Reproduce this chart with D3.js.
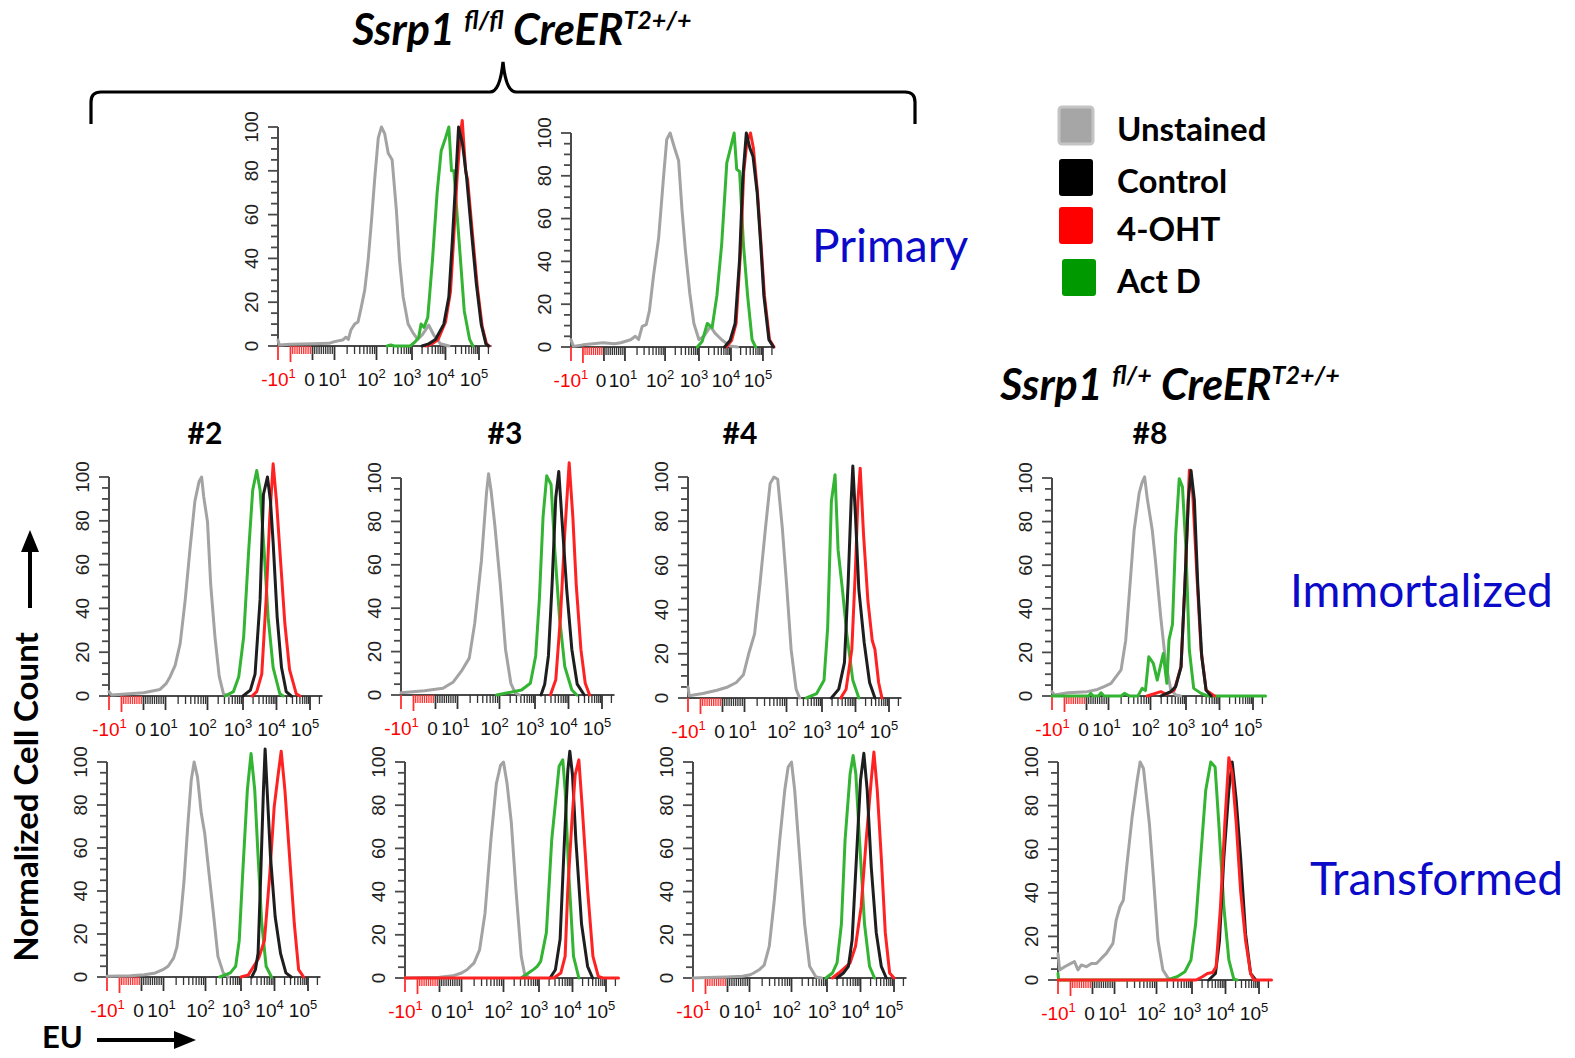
<!DOCTYPE html>
<html>
<head>
<meta charset="utf-8">
<script src="https://cdn.jsdelivr.net/npm/d3@7"></script>
<style>
  body { margin: 0; background: #fff; }
  svg { display: block; }
</style>
</head>
<body>
<svg id="fig" width="1575" height="1058"></svg>
<script>
// Histogram points are [u, % of max]; u is the display decade:
// u = EU/10 inside the linear zone (-10..10), sign*log10|EU| outside it.

const legendLabels = ["Unstained", "Control", "4-OHT", "Act D"];
const seriesKeys = ["unstained", "control", "oht", "actd"];
const rowLabels = ["Primary", "Immortalized", "Transformed"];
const cloneLabels = ["#2", "#3", "#4", "#8"];
const yTicks = [0, 20, 40, 60, 80, 100];

const primaryA = {
    unstained: [[-2,2.7],[-1.9,0.5],[-1,0.8],[0,1],[0.75,1.2],[1,2],[1.19,2.7],[1.27,4],[1.33,3],[1.39,7.3],[1.48,10],[1.56,11],[1.64,18],[1.72,25.5],[1.8,39],[1.88,57],[1.96,77],[2.05,95],[2.14,100],[2.23,97],[2.33,88],[2.44,85],[2.56,62],[2.65,39],[2.75,22.5],[2.89,10],[3.03,6],[3.17,3],[3.3,5],[3.5,9.5],[3.65,5],[3.85,1],[4.1,0]],
    actd: [[2.3,0],[2.4,0.5],[2.5,0],[2.95,0],[3.1,2],[3.2,4],[3.27,10],[3.36,8.5],[3.47,13],[3.61,39],[3.75,70],[3.87,89],[4,95],[4.1,100],[4.18,80],[4.25,80],[4.41,47],[4.56,16],[4.72,3],[4.82,0]],
    control: [[3.3,0],[3.5,1],[3.7,3],[3.95,10],[4.1,22.5],[4.2,47],[4.31,77],[4.39,100],[4.51,92],[4.63,77],[4.77,53],[4.92,28.5],[5.07,10],[5.22,1],[5.3,0]],
    oht: [[3.4,0],[3.6,1],[3.78,3],[4,11],[4.15,25],[4.24,48],[4.35,78],[4.44,96],[4.5,103],[4.6,80],[4.66,76],[4.8,52],[4.95,27],[5.1,9],[5.24,1],[5.32,0]]
};
const primaryB = {
    unstained: [[-2,3.4],[-1.8,0.3],[-1,1],[-0.05,2],[0.5,1.5],[0.8,2],[1.14,3.4],[1.26,5],[1.34,3.5],[1.43,9.6],[1.53,10.4],[1.61,17],[1.71,33],[1.84,51],[1.96,79],[2.05,97],[2.15,100],[2.28,93],[2.4,87],[2.5,64],[2.6,45],[2.73,25],[2.85,11],[3,3.4],[3.15,5],[3.36,9.6],[3.5,6.5],[3.71,3.4],[3.97,0.5],[4.2,0]],
    actd: [[2.95,0],[3.1,2.6],[3.26,11],[3.41,9],[3.56,24],[3.71,48],[3.87,86],[3.97,92],[4.1,100],[4.18,83],[4.27,82],[4.39,48],[4.52,24],[4.66,3.4],[4.77,0]],
    control: [[3.8,0],[3.97,3],[4.13,11],[4.27,41],[4.37,79],[4.48,100],[4.59,93],[4.69,89],[4.82,72],[4.93,48],[5.03,24],[5.2,3.4],[5.35,0]],
    oht: [[3.85,0],[4.02,3],[4.16,11],[4.3,45],[4.4,82],[4.5,96],[4.61,100],[4.7,93],[4.83,72],[4.94,48],[5.05,24],[5.22,3.4],[5.37,0]]
};
const immort2 = {
    unstained: [[-2,2],[-1.8,0.5],[0,1.5],[0.75,3],[1.02,5.8],[1.11,8.8],[1.23,14],[1.35,24],[1.47,44],[1.58,66.5],[1.7,89],[1.8,98],[1.86,100],[1.91,91],[2,79.5],[2.09,51],[2.21,27],[2.33,9],[2.45,1],[2.6,0]],
    actd: [[2.5,0],[2.73,2],[2.88,8.8],[3.02,27],[3.17,66.5],[3.29,94],[3.41,103],[3.51,94],[3.63,66.5],[3.75,36],[3.9,13],[4.1,1],[4.2,0]],
    control: [[3,0],[3.22,2.7],[3.36,10],[3.51,44],[3.61,92],[3.73,100],[3.82,89],[3.9,70],[4.02,36],[4.15,13],[4.29,2],[4.44,0]],
    oht: [[3.27,0],[3.41,2],[3.56,10],[3.69,44],[3.8,82],[3.9,106],[4,89],[4.1,66.5],[4.25,33],[4.39,12],[4.59,1],[4.7,0]]
};
const immort3 = {
    unstained: [[-2,1],[-0.5,2],[0.34,3.1],[0.81,6],[1.11,11.5],[1.28,17],[1.41,33],[1.57,62],[1.69,93],[1.74,102],[1.8,94],[1.89,78],[2.02,51.5],[2.17,21],[2.32,5.4],[2.44,1],[2.56,0]],
    actd: [[1.93,0],[2.62,2.3],[2.87,5.4],[3.02,18],[3.13,44],[3.24,82],[3.35,101],[3.48,97],[3.59,67],[3.73,36],[3.89,13],[4.1,2.3],[4.25,0]],
    control: [[3.18,0],[3.29,5],[3.4,18],[3.51,51],[3.62,91],[3.71,103],[3.8,82],[3.95,48],[4.1,21],[4.26,5],[4.47,0]],
    oht: [[3.46,0],[3.62,7],[3.76,36],[3.89,75],[4.02,107],[4.13,82],[4.23,51],[4.37,21],[4.5,5.4],[4.63,0]]
};
const immort4 = {
    unstained: [[-2,5],[-1.9,1],[-0.9,2],[-0.25,3.5],[0.24,5],[0.63,7],[0.95,10.5],[1.1,20],[1.24,29],[1.37,52],[1.5,77],[1.61,97],[1.7,100],[1.79,99],[1.9,77],[2,52],[2.13,22],[2.27,4],[2.37,0]],
    actd: [[2.56,0],[2.85,2],[3.06,8],[3.17,32],[3.28,89],[3.39,101],[3.48,67],[3.61,49],[3.74,29],[3.92,8],[4.1,0]],
    control: [[3.28,0],[3.5,4],[3.67,16],[3.78,52],[3.87,89],[3.92,105],[4,82],[4.1,49],[4.26,25],[4.42,7],[4.58,0]],
    oht: [[3.56,0],[3.72,4],[3.89,22],[4,59],[4.07,89],[4.14,104],[4.24,74],[4.37,44],[4.5,26],[4.58,22],[4.69,7],[4.79,0]]
};
const immort8 = {
    unstained: [[-2,2],[-1.8,0.5],[-0.85,1.5],[0.03,2],[0.5,3],[0.8,4.3],[1.06,5.8],[1.18,8.9],[1.3,12],[1.41,25.6],[1.49,45.5],[1.61,76],[1.73,93],[1.8,98],[1.86,100.5],[1.92,91],[2.05,76],[2.14,62],[2.29,36],[2.43,15],[2.57,3],[2.71,0.5],[2.85,0]],
    actd: [[-2,0],[0.1,0],[0.19,1.2],[0.3,0],[0.55,0],[0.66,1.5],[0.8,0],[1.3,0],[1.38,1.2],[1.5,0],[1.7,0],[1.8,3.5],[1.88,2.5],[1.96,18],[2.08,15],[2.19,7.3],[2.36,19.5],[2.46,5.8],[2.52,25.6],[2.62,33],[2.71,74],[2.81,99.7],[2.9,96],[3,67],[3.1,21],[3.23,3.5],[3.45,1.2],[3.65,0],[5.4,0]],
    control: [[2.29,0],[2.57,2],[2.71,4.3],[2.86,13.4],[2.97,51.6],[3.07,89.8],[3.15,103.5],[3.25,89.8],[3.35,51.6],[3.47,18],[3.6,2.7],[3.75,0]],
    oht: [[1.92,0],[2.29,2],[2.45,0.8],[2.67,2.7],[2.86,13.4],[2.98,55],[3.1,103.5],[3.2,93],[3.33,54],[3.45,21],[3.6,2.7],[3.85,0]]
};
const transf2 = {
    unstained: [[-2,0.3],[-0.5,0.6],[0.13,1],[0.63,1.9],[0.97,3.4],[1.11,5],[1.24,8.8],[1.32,14],[1.41,28],[1.49,45],[1.58,71],[1.66,91.5],[1.73,100],[1.81,93],[1.9,76],[1.98,67],[2.1,48],[2.22,30],[2.35,9.6],[2.5,1.9],[2.65,0]],
    actd: [[2.4,0],[2.7,1.9],[2.85,5],[2.95,17],[3.05,48],[3.19,87],[3.3,104],[3.41,87],[3.51,56],[3.62,25],[3.75,5],[3.91,0]],
    control: [[3.32,0],[3.43,3.4],[3.51,11],[3.59,48],[3.67,87],[3.72,106],[3.78,87],[3.88,56],[4.02,28],[4.18,11],[4.34,1.9],[4.5,0]],
    oht: [[3,0],[3.22,1],[3.38,5],[3.53,8.8],[3.7,17],[3.86,48],[3.99,79],[4.1,93],[4.2,105],[4.31,87],[4.45,56],[4.59,25],[4.72,3.4],[4.87,0]]
};
const transf3 = {
    unstained: [[-2,0],[0,0.3],[0.6,1],[1,2.3],[1.13,3.8],[1.3,7],[1.43,13],[1.56,30],[1.7,64],[1.83,90],[1.93,98.5],[2,100],[2.1,90],[2.22,72],[2.35,41],[2.5,10],[2.6,1.5],[2.75,0]],
    actd: [[2.5,0],[2.7,2.3],[2.85,4],[2.95,5.4],[3.05,7.7],[3.22,21],[3.38,64],[3.6,98],[3.71,101],[3.78,87],[3.89,48],[4.03,10],[4.19,0]],
    control: [[3.33,0],[3.49,3.8],[3.63,18],[3.76,64],[3.86,96],[3.92,105],[4,94],[4.1,64],[4.27,25],[4.45,5.4],[4.6,0]],
    oht: [[-2,0],[3.44,0],[3.65,2.3],[3.78,10],[3.86,41],[3.98,72],[4.08,94],[4.19,101],[4.29,79],[4.45,41],[4.61,10],[4.77,0.8],[4.9,0],[5.4,0]]
};
const transf4 = {
    unstained: [[-2,0],[-0.95,0.2],[-0.05,0.5],[0.68,0.8],[1.02,1.5],[1.1,2.3],[1.23,3.8],[1.35,6],[1.47,14.6],[1.59,36],[1.72,64],[1.84,87],[1.92,97.7],[2,100],[2.09,87],[2.23,56],[2.37,25],[2.51,5.4],[2.69,0.5],[2.85,0]],
    actd: [[2.97,0],[3.16,2.3],[3.3,7],[3.43,25],[3.54,64],[3.69,94.6],[3.78,103],[3.86,94.6],[3.97,64],[4.12,25],[4.27,5.4],[4.42,0]],
    control: [[3.3,0],[3.49,2.3],[3.64,5.4],[3.75,17.7],[3.88,56],[4,91.5],[4.1,104],[4.2,87],[4.32,51.5],[4.47,21],[4.62,5.4],[4.77,0]],
    oht: [[3.16,0],[3.35,2.3],[3.52,4.6],[3.69,7],[3.85,14.6],[4.02,33],[4.17,64],[4.32,91.5],[4.4,104.6],[4.5,87],[4.62,56],[4.74,21],[4.87,2.3],[5,0]]
};
const transf8 = {
    unstained: [[-2,12],[-1.87,4.6],[-1.47,6.1],[-1.08,7.3],[-0.82,8.4],[-0.66,4.6],[-0.51,6.9],[-0.28,6.1],[-0.05,7.6],[0.18,7.6],[0.4,9.9],[0.63,12.2],[0.93,16.8],[1.04,27.5],[1.13,33.6],[1.21,36.6],[1.29,51.9],[1.42,74.8],[1.54,91.6],[1.61,100],[1.69,97],[1.83,71.8],[1.92,48.9],[2.04,18.3],[2.18,4.6],[2.35,0.3],[2.5,0]],
    actd: [[-2,3],[-1.95,0],[2.3,0],[2.58,1.5],[2.8,3.8],[2.97,9.2],[3.11,26],[3.26,56.5],[3.41,87],[3.56,100],[3.69,97.7],[3.8,71.8],[3.95,33.6],[4.1,9.2],[4.25,0.3],[4.35,0]],
    control: [[3.5,0],[3.7,3],[3.82,18],[3.95,56],[4.1,87],[4.2,100],[4.32,82.5],[4.45,56.5],[4.6,21],[4.75,3],[4.9,0]],
    oht: [[-2,0],[3.12,0],[3.31,1.5],[3.46,3],[3.61,3.4],[3.72,6],[3.85,33.6],[3.98,72],[4.1,102],[4.2,94.6],[4.32,72],[4.45,41],[4.6,18],[4.75,3],[4.85,0],[5.4,0]]
};

// axis geometry: display decade -> pixel offset from the y axis
const uStops = [-2, -1, 0, 1, 2, 3, 4, 5, 5.4];
const pxStops = [0, 12.5, 34.5, 56.5, 98.5, 134, 167.5, 201, 213.5];

const colors = { unstained: "#a3a3a3", control: "#1e1e1e", oht: "#ff2222", actd: "#33b533" };
const legendColors = ["#a6a6a6", "#000000", "#ff0000", "#009a00"];
const defaultOrder = ["unstained", "actd", "oht", "control"];
const redOnTop = ["unstained", "actd", "control", "oht"];

const panels = [
    { data: primaryA, x: 278, y0: 346, h: 219, k: 1 },
    { data: primaryB, x: 571, y0: 347, h: 214, k: 0.955 },
    { data: immort2, x: 109, y0: 696, h: 219, k: 1 },
    { data: immort3, x: 401, y0: 695, h: 217, k: 1 },
    { data: immort4, x: 688, y0: 698, h: 221, k: 1 },
    { data: immort8, x: 1052, y0: 696, h: 218, k: 1 },
    { data: transf2, x: 107, y0: 977, h: 215, k: 1 },
    { data: transf3, x: 405, y0: 978, h: 216, k: 1, order: redOnTop },
    { data: transf4, x: 693, y0: 978, h: 216, k: 1 },
    { data: transf8, x: 1058, y0: 980, h: 218, k: 1, order: redOnTop }
];

const svg = d3.select("#fig");
const sans = "'Liberation Sans', Arial, sans-serif";
const cal = "Lato, 'Open Sans', sans-serif";

// raw EU value -> display decade
function toU(v) {
    return Math.abs(v) <= 10 ? v / 10 : Math.sign(v) * Math.log10(Math.abs(v));
}

// minor tick positions on the EU axis
const minorVals = [];
for (let i = 1; i <= 9; i++) { minorVals.push(-i); minorVals.push(i); }
[10, 100, 1000, 10000].forEach(dec => { for (let m = 2; m <= 9; m++) minorVals.push(m * dec); });
minorVals.push(200000);
const majorVals = [-100, -10, 0, 10, 100, 1000, 10000, 100000];

function drawPanel(p) {
    const g = svg.append("g");
    const x = d3.scaleLinear().domain(uStops).range(pxStops.map(d => p.x + d * p.k));
    const y = d3.scaleLinear().domain([0, 100]).range([p.y0, p.y0 - p.h]);
    const axisCol = "#4a4a4a";

    // y axis
    g.append("line").attr("x1", p.x).attr("x2", p.x).attr("y1", y(0)).attr("y2", y(100))
        .attr("stroke", axisCol).attr("stroke-width", 2);
    g.selectAll(".ymin").data(d3.range(0, 101, 5)).enter().append("line")
        .attr("x1", d => p.x - (d % 20 === 0 ? 10 : 7)).attr("x2", p.x)
        .attr("y1", d => y(d)).attr("y2", d => y(d))
        .attr("stroke", axisCol).attr("stroke-width", 1.8);
    g.selectAll(".ylab").data(yTicks).enter().append("text")
        .attr("transform", d => `translate(${p.x - 27},${y(d)}) rotate(-90)`)
        .attr("dy", "0.36em").attr("text-anchor", "middle")
        .style("font-family", sans).style("font-size", "19px").attr("fill", "#222")
        .text(d => d);

    // x axis
    g.append("line").attr("x1", x(-2)).attr("x2", x(5.4)).attr("y1", p.y0).attr("y2", p.y0)
        .attr("stroke", axisCol).attr("stroke-width", 2);
    g.selectAll(".xmin").data(minorVals).enter().append("line")
        .attr("x1", d => x(toU(d))).attr("x2", d => x(toU(d)))
        .attr("y1", p.y0).attr("y2", p.y0 + 8)
        .attr("stroke", d => d < 0 ? "#ff3030" : "#333").attr("stroke-width", 1.3);
    g.selectAll(".xmaj").data(majorVals).enter().append("line")
        .attr("x1", d => x(toU(d))).attr("x2", d => x(toU(d)))
        .attr("y1", p.y0).attr("y2", d => p.y0 + (d === -10 ? 16 : 14))
        .attr("stroke", d => d < 0 ? "#ff3030" : "#333").attr("stroke-width", 1.8);

    // x labels ("0" and "10^1" sit almost touching, as in the original)
    const ly = p.y0 + 40;
    const lab = (u, dx, base, sup, col) => {
        const t = g.append("text").attr("x", x(u) + dx).attr("y", ly).attr("text-anchor", "middle")
            .style("font-family", sans).style("font-size", "19px").attr("fill", col);
        t.append("tspan").text(base);
        if (sup) t.append("tspan").attr("dy", -8).style("font-size", "13px").text(sup);
    };
    lab(-1, -12, "-10", "1", "#ff0000");
    lab(0, -3, "0", null, "#111");
    lab(1, -2, "10", "1", "#111");
    [2, 3, 4, 5].forEach(e => lab(e, -5, "10", String(e), "#111"));

    // histograms
    const line = d3.line().x(d => x(d[0])).y(d => y(d[1])).curve(d3.curveLinear);
    (p.order || defaultOrder).forEach(key => {
        g.append("path").attr("d", line(p.data[key]))
            .attr("fill", "none").attr("stroke", colors[key]).attr("stroke-width", 3)
            .attr("stroke-linejoin", "round").attr("stroke-linecap", "round");
    });
}

panels.forEach(drawPanel);

// titles with superscripts
function genotype(cx, by, sup1) {
    const t = svg.append("text").attr("x", cx).attr("y", by).attr("text-anchor", "middle")
        .style("font-family", cal).style("font-weight", "bold").style("font-style", "italic")
        .style("font-size", "43px").attr("fill", "#000");
    t.append("tspan").text("Ssrp1 ");
    t.append("tspan").attr("dy", -16).style("font-size", "25px").text(sup1);
    t.append("tspan").attr("dy", 16).text(" CreER");
    t.append("tspan").attr("dy", -16).style("font-size", "25px").text("T2+/+");
}
genotype(522, 45, "fl/fl");
genotype(1170, 400, "fl/+");

// curly brace over the primary panels
svg.append("path")
    .attr("d", "M91,124 L91,102 Q91,92 101,92 L490,92 Q500,92 503,62 Q506,92 516,92 L905,92 Q915,92 915,102 L915,124")
    .attr("fill", "none").attr("stroke", "#000").attr("stroke-width", 3.2);

// legend
legendLabels.forEach((name, i) => {
    const ty = [107, 159, 207, 259][i];
    const tx = i === 3 ? 1062 : 1059;
    svg.append("rect").attr("x", tx).attr("y", ty).attr("width", 34).attr("height", 37).attr("rx", 3)
        .attr("fill", legendColors[i])
        .attr("stroke", i === 0 ? "#c4c4c4" : "none").attr("stroke-width", 3);
    svg.append("text").attr("x", 1117).attr("y", ty + 34)
        .style("font-family", cal).style("font-weight", "bold").style("font-size", "33px")
        .attr("fill", "#000").text(name);
});

// row labels
[[812, 262], [1290, 607], [1310, 895]].forEach((pos, i) => {
    svg.append("text").attr("x", pos[0]).attr("y", pos[1])
        .style("font-family", cal).style("font-size", "46px").attr("fill", "#0a0ac8")
        .text(rowLabels[i]);
});

// clone labels
[205, 505, 740, 1150].forEach((cx, i) => {
    svg.append("text").attr("x", cx).attr("y", 444).attr("text-anchor", "middle")
        .style("font-family", cal).style("font-weight", "bold").style("font-size", "30px")
        .attr("fill", "#000").text(cloneLabels[i]);
});

// axis titles with arrows
svg.append("text").attr("transform", "translate(38,797) rotate(-90)").attr("text-anchor", "middle")
    .style("font-family", cal).style("font-weight", "bold").style("font-size", "33px")
    .attr("fill", "#000").text("Normalized Cell Count");
svg.append("line").attr("x1", 30).attr("x2", 30).attr("y1", 608).attr("y2", 548)
    .attr("stroke", "#000").attr("stroke-width", 4);
svg.append("path").attr("d", "M21,552 L30,530 L39,552 Z").attr("fill", "#000");

svg.append("text").attr("x", 42).attr("y", 1048)
    .style("font-family", cal).style("font-weight", "bold").style("font-size", "31px")
    .attr("fill", "#000").text("EU");
svg.append("line").attr("x1", 97).attr("x2", 178).attr("y1", 1040).attr("y2", 1040)
    .attr("stroke", "#000").attr("stroke-width", 4);
svg.append("path").attr("d", "M174,1031 L196,1040 L174,1049 Z").attr("fill", "#000");
</script>
</body>
</html>
